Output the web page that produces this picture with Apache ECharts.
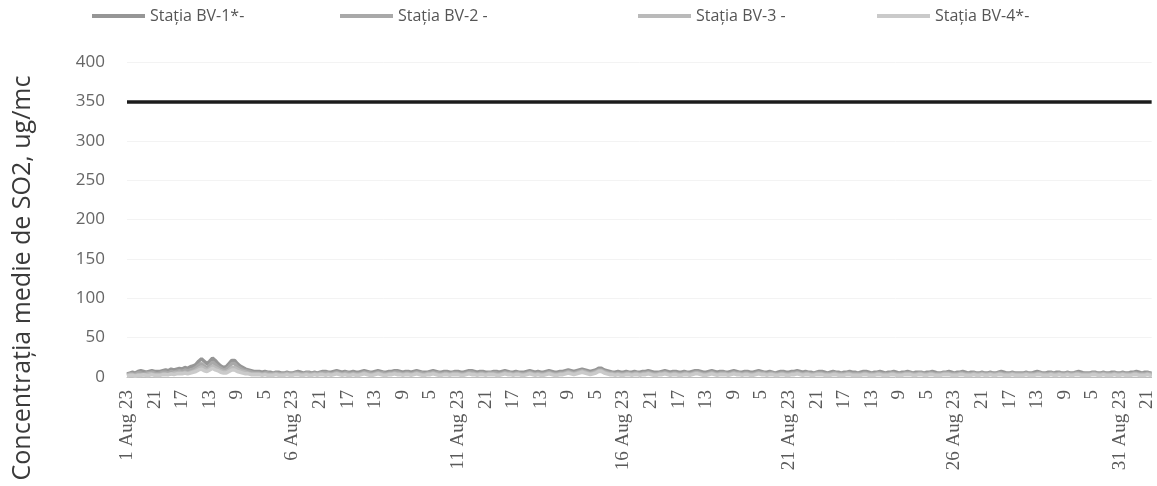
<!DOCTYPE html>
<html>
<head>
<meta charset="utf-8">
<script src="https://cdn.jsdelivr.net/npm/echarts@6/dist/echarts.min.js"></script>
<style>html,body{margin:0;padding:0;background:#fff;}#c{width:1157px;height:486px;}</style>
</head>
<body>
<div id="c"></div>
<script>
// ---- DATA ----
const seriesNames = ["Stația BV-1*-", "Stația BV-2 -", "Stația BV-3 -", "Stația BV-4*-"];
const yAxisTitle = "Concentrația medie de SO2, ug/mc";
const limitValue = 350;
const yTicks = { min: 0, max: 400, step: 50 };
const monthNames = ["Jan","Feb","Mar","Apr","May","Jun","Jul","Aug","Sep","Oct","Nov","Dec"];

// hourly values, one line per day (1 Aug 01:00 ... 1 Sep 00:00)
const bv1 = [
4,5,5,6,6,5,5,6,7,7,8,8,7,7,6,6,7,8,8,7,7,6,7,7,
7,8,8,9,9,8,8,9,10,10,9,9,10,11,11,10,10,11,12,12,11,12,13,13,
14,15,16,18,20,22,23,22,20,18,17,18,20,22,24,23,21,19,17,15,14,13,12,12,
13,15,17,19,21,22,21,19,17,15,14,13,12,11,10,9,9,8,8,8,7,7,7,7,
7,6,6,6,7,7,6,6,6,5,5,6,6,7,6,6,5,5,5,6,6,6,5,5,
5,6,6,7,7,6,6,5,5,5,6,6,6,5,5,6,6,5,5,6,6,6,7,7,
7,7,6,6,6,7,7,8,8,7,7,6,6,7,7,7,6,6,6,7,7,6,6,6,
6,6,7,7,8,8,7,7,6,6,6,7,7,7,8,8,7,7,6,6,6,6,7,7,
7,7,8,8,8,7,7,6,6,6,7,7,7,6,6,6,7,7,8,8,7,7,6,6,
6,6,6,7,7,7,8,8,7,7,6,6,6,6,7,7,7,6,6,6,6,7,7,7,
7,7,6,6,6,6,7,7,8,8,8,7,7,6,6,6,7,7,7,6,6,6,6,6,
6,6,7,7,7,6,6,6,7,7,8,8,7,7,6,6,6,7,7,7,6,6,6,6,
6,7,7,8,8,7,7,6,6,6,7,7,6,6,6,7,7,8,8,7,7,6,6,6,
6,6,7,7,7,8,8,9,9,8,8,7,7,7,8,8,9,9,10,10,9,8,8,7,
7,7,8,8,9,10,11,12,11,10,9,8,8,7,7,7,6,6,6,7,7,6,6,6,
6,6,7,7,6,6,6,7,7,7,6,6,6,6,7,7,7,8,8,7,7,6,6,6,
6,6,6,7,7,8,8,7,7,6,6,6,7,7,7,6,6,6,6,7,7,7,6,6,
6,7,7,7,8,8,8,7,7,6,6,6,6,7,7,8,8,7,7,6,6,6,7,7,
7,7,6,6,6,7,7,7,8,8,7,7,6,6,6,6,7,7,7,6,6,6,6,7,
7,7,8,8,7,7,6,6,6,7,7,7,6,6,5,5,6,6,7,7,7,6,6,6,
6,6,7,7,7,8,8,7,7,6,6,6,7,7,6,6,6,5,5,6,6,6,7,7,
7,6,6,6,5,5,6,6,7,7,6,6,6,5,5,5,6,6,6,7,7,6,6,6,
6,6,5,5,6,6,7,7,7,6,6,5,5,5,6,6,6,7,7,6,6,5,5,6,
6,6,6,7,7,6,6,5,5,5,6,6,6,7,7,7,6,6,5,5,6,6,6,6,
6,5,5,5,6,6,6,7,7,6,6,5,5,5,5,6,6,6,6,7,7,6,6,5,
5,5,6,6,6,7,7,6,6,5,5,5,6,6,6,6,5,5,5,6,6,6,5,5,
5,6,6,6,5,5,5,6,6,7,7,6,6,5,5,5,5,6,6,6,5,5,5,5,
5,5,5,6,6,6,5,5,5,5,6,6,7,7,6,6,5,5,5,5,6,6,6,5,
5,5,6,6,6,5,5,5,5,6,6,6,5,5,5,6,6,7,7,6,6,5,5,5,
5,5,5,6,6,6,6,5,5,5,5,6,6,6,5,5,5,5,6,6,6,6,5,5,
5,6,6,6,5,5,5,5,6,6,6,7,7,6,6,5,5,5,6,6,6,5,5,5
];
const bv2 = [
3,3,4,4,4,3,3,4,5,5,5,4,4,4,5,5,5,6,6,5,5,4,4,5,
5,5,6,6,6,5,5,6,7,7,6,6,7,8,8,7,7,8,9,9,8,8,9,10,
10,11,12,13,15,16,17,16,14,13,12,13,15,17,19,18,16,14,13,12,11,10,9,9,
10,11,13,15,17,18,17,15,13,12,11,10,9,8,8,7,7,6,6,6,5,5,5,5,
5,5,4,4,5,5,5,4,4,4,4,5,5,5,4,4,4,4,4,5,5,4,4,4,
4,4,5,5,5,4,4,4,4,4,5,5,5,4,4,4,5,5,4,4,5,5,5,5,
5,5,5,4,4,5,5,6,6,5,5,5,4,5,5,5,5,4,4,5,5,5,4,4,
4,5,5,5,6,6,5,5,5,4,4,5,5,5,6,6,5,5,5,4,4,5,5,5,
5,5,6,6,6,5,5,5,4,4,5,5,5,5,4,4,5,5,6,6,5,5,5,4,
4,4,5,5,5,5,6,6,5,5,5,4,4,4,5,5,5,5,4,4,5,5,5,5,
5,5,4,4,4,5,5,5,6,6,6,5,5,4,4,5,5,5,5,4,4,4,5,5,
5,5,5,5,5,4,4,5,5,5,6,6,5,5,5,4,4,5,5,5,5,4,4,4,
4,5,5,6,6,5,5,4,4,5,5,5,4,4,4,5,5,6,6,5,5,5,4,4,
4,5,5,5,5,6,6,7,7,6,6,5,5,5,6,6,7,7,8,8,7,6,6,5,
5,5,6,6,7,8,9,10,9,8,7,6,6,5,5,5,5,4,4,5,5,5,4,4,
4,4,5,5,5,4,4,5,5,5,5,4,4,4,5,5,5,6,6,5,5,5,4,4,
4,4,5,5,5,6,6,5,5,5,4,4,5,5,5,5,4,4,4,5,5,5,5,4,
4,5,5,5,6,6,6,5,5,5,4,4,4,5,5,6,6,5,5,5,4,4,5,5,
5,5,5,4,4,5,5,5,6,6,5,5,5,4,4,4,5,5,5,5,4,4,4,5,
5,5,6,6,5,5,5,4,4,5,5,5,5,4,4,4,4,5,5,5,5,4,4,4,
4,4,5,5,5,6,6,5,5,5,4,4,5,5,5,4,4,4,4,4,5,5,5,5,
5,5,4,4,4,4,4,5,5,5,5,4,4,4,4,4,4,5,5,5,5,5,4,4,
4,4,4,4,4,5,5,5,5,5,4,4,4,4,4,5,5,5,5,5,4,4,4,4,
4,4,5,5,5,5,4,4,4,4,4,5,5,5,5,5,5,4,4,4,4,5,5,5,
5,4,4,4,4,5,5,5,5,5,4,4,4,4,4,4,5,5,5,5,5,4,4,4,
4,4,4,4,5,5,5,5,4,4,4,4,4,5,5,5,4,4,4,4,5,5,4,4,
4,4,5,5,4,4,4,4,5,5,5,5,4,4,4,4,4,4,5,5,4,4,4,4,
4,4,4,4,5,5,4,4,4,4,4,5,5,5,5,4,4,4,4,4,4,5,5,4,
4,4,4,5,5,4,4,4,4,4,5,5,4,4,4,4,5,5,5,5,4,4,4,4,
4,4,4,4,5,5,5,4,4,4,4,4,5,5,4,4,4,4,4,5,5,5,4,4,
4,4,5,5,4,4,4,4,4,5,5,5,5,5,4,4,4,4,4,5,5,4,4,4
];
const bv3 = [
2,2,3,3,3,2,2,3,3,3,3,3,3,3,3,4,4,4,4,3,3,3,3,3,
3,3,4,4,4,4,3,4,4,5,5,4,5,5,6,5,5,6,6,6,5,6,6,7,
7,8,9,10,11,12,13,12,11,10,9,10,11,13,14,13,12,11,10,9,8,7,7,6,
7,8,9,11,12,13,12,11,10,9,8,7,7,6,6,5,5,5,4,4,4,4,4,4,
4,3,3,3,4,4,3,3,3,3,3,4,4,4,3,3,3,3,3,4,4,3,3,3,
3,3,4,4,4,3,3,3,3,3,4,4,3,3,3,3,4,4,3,3,4,4,4,3,
3,4,4,3,3,4,4,5,5,4,4,3,3,4,4,4,3,3,3,4,4,4,3,3,
3,4,4,4,5,5,4,4,3,3,3,4,4,4,5,4,4,4,3,3,3,4,4,4,
4,4,5,5,4,4,4,3,3,3,4,4,4,4,3,3,4,4,5,5,4,4,3,3,
3,3,4,4,4,4,5,5,4,4,3,3,3,3,4,4,4,4,3,3,4,4,4,4,
4,4,3,3,3,4,4,4,5,5,4,4,4,3,3,4,4,4,4,3,3,3,4,4,
4,4,4,4,3,3,3,4,4,4,5,5,4,4,4,3,3,4,4,4,4,3,3,3,
3,4,4,5,5,4,4,3,3,4,4,4,3,3,3,4,4,5,5,4,4,4,3,3,
3,4,4,4,4,5,5,6,6,5,5,4,4,4,5,5,6,6,7,7,6,5,5,4,
4,4,5,5,6,7,8,9,8,7,6,5,5,4,4,4,4,3,3,4,4,4,3,3,
3,3,4,4,4,3,3,4,4,4,4,3,3,3,4,4,4,5,5,4,4,4,3,3,
3,3,4,4,4,5,5,4,4,4,3,3,4,4,4,4,3,3,3,4,4,4,4,3,
3,4,4,4,5,5,5,4,4,4,3,3,3,4,4,5,5,4,4,4,3,3,4,4,
4,4,4,3,3,4,4,4,5,5,4,4,4,3,3,3,4,4,4,4,3,3,3,4,
4,4,5,5,4,4,4,3,3,4,4,4,4,3,3,3,3,4,4,4,4,3,3,3,
3,3,4,4,4,5,5,4,4,4,3,3,4,4,4,3,3,3,3,3,4,4,4,4,
4,4,3,3,3,3,3,4,4,4,4,3,3,3,3,3,3,4,4,4,4,4,3,3,
3,3,3,3,3,4,4,4,4,4,3,3,3,3,3,4,4,4,4,4,3,3,3,3,
3,3,4,4,4,4,3,3,3,3,3,4,4,4,4,4,4,3,3,3,3,4,4,4,
4,3,3,3,3,4,4,4,4,4,3,3,3,3,3,3,4,4,4,4,4,3,3,3,
3,3,3,3,4,4,4,4,3,3,3,3,3,4,4,4,3,3,3,3,4,4,3,3,
3,3,4,4,3,3,3,3,4,4,4,4,3,3,3,3,3,3,4,4,3,3,3,3,
3,3,3,3,4,4,3,3,3,3,3,4,4,4,4,3,3,3,3,3,3,4,4,3,
3,3,3,4,4,3,3,3,3,3,4,4,3,3,3,3,4,4,4,4,3,3,3,3,
3,3,3,3,4,4,4,3,3,3,3,3,4,4,3,3,3,3,3,4,4,4,3,3,
3,3,4,4,3,3,3,3,3,4,4,4,4,4,3,3,3,3,3,4,4,3,3,3
];
const bv4 = [
1,1,2,2,2,2,1,1,2,2,2,3,3,2,2,2,2,3,3,2,2,2,2,2,
2,2,3,3,3,3,3,3,4,4,3,3,4,4,4,4,4,5,5,4,4,5,5,5,
6,6,7,8,9,10,10,9,8,8,7,8,9,10,11,10,9,9,8,7,6,6,5,5,
5,6,7,8,9,10,9,8,7,7,6,6,5,5,4,4,4,3,3,3,3,3,3,3,
3,2,2,2,3,3,2,2,2,2,2,3,3,3,2,2,2,2,2,3,3,2,2,2,
2,2,3,3,3,2,2,2,2,2,3,3,2,2,2,2,3,3,2,2,3,3,3,2,
2,3,3,2,2,3,3,4,4,3,3,2,2,3,3,3,2,2,2,3,3,3,2,2,
2,3,3,3,4,4,3,3,2,2,2,3,3,3,4,3,3,3,2,2,2,3,3,3,
3,3,4,4,3,3,3,2,2,2,3,3,3,3,2,2,3,3,4,4,3,3,2,2,
2,2,3,3,3,3,4,4,3,3,2,2,2,2,3,3,3,3,2,2,3,3,3,3,
3,3,2,2,2,3,3,3,4,4,3,3,3,2,2,3,3,3,3,2,2,2,3,3,
3,3,3,3,2,2,2,3,3,3,4,4,3,3,3,2,2,3,3,3,3,2,2,2,
2,3,3,4,4,3,3,2,2,3,3,3,2,2,2,3,3,4,4,3,3,3,2,2,
2,3,3,3,3,4,4,5,5,4,4,3,3,3,4,4,5,5,6,6,5,4,4,3,
3,3,4,4,5,6,7,8,7,6,5,4,4,3,3,3,3,2,2,3,3,3,2,2,
2,2,3,3,3,2,2,3,3,3,3,2,2,2,3,3,3,4,4,3,3,3,2,2,
2,2,3,3,3,4,4,3,3,3,2,2,3,3,3,3,2,2,2,3,3,3,3,2,
2,3,3,3,4,4,4,3,3,3,2,2,2,3,3,4,4,3,3,3,2,2,3,3,
3,3,3,2,2,3,3,3,4,4,3,3,3,2,2,2,3,3,3,3,2,2,2,3,
3,3,4,4,3,3,3,2,2,3,3,3,3,2,2,2,2,3,3,3,3,2,2,2,
2,2,3,3,3,4,4,3,3,3,2,2,3,3,3,2,2,2,2,2,3,3,3,3,
3,3,2,2,2,2,2,3,3,3,3,2,2,2,2,2,2,3,3,3,3,3,2,2,
2,2,2,2,2,3,3,3,3,3,2,2,2,2,2,3,3,3,3,3,2,2,2,2,
2,2,3,3,3,3,2,2,2,2,2,3,3,3,3,3,3,2,2,2,2,3,3,3,
3,2,2,2,2,3,3,3,3,3,2,2,2,2,2,2,3,3,3,3,3,2,2,2,
2,2,2,2,3,3,3,3,2,2,2,2,2,3,3,3,2,2,2,2,3,3,2,2,
2,2,3,3,2,2,2,2,3,3,3,3,2,2,2,2,2,2,3,3,2,2,2,2,
2,2,2,2,3,3,2,2,2,2,2,3,3,3,3,2,2,2,2,2,2,3,3,2,
2,2,2,3,3,2,2,2,2,2,3,3,2,2,2,2,3,3,3,3,2,2,2,2,
2,2,2,2,3,3,3,2,2,2,2,2,3,3,2,2,2,2,2,3,3,3,2,2,
2,2,3,3,2,2,2,2,2,3,3,3,3,3,2,2,2,2,2,3,3,2,2,2
];

// categories: hourly timestamps starting 1 Aug 2023 01:00
const categories = [];
for (let i = 0; i < bv1.length; i++) {
  const d = new Date(2023, 7, 1, 1 + i);
  categories.push({ day: d.getDate(), mon: monthNames[d.getMonth()], hour: d.getHours() });
}
const labelEvery = 20;   // one tick label every 20 hours
const dateLabelEvery = 120; // date label every 5 days
const tickLabels = categories.map((c, i) =>
  i % dateLabelEvery === 0 ? (c.day + " " + c.mon + " 23") : String(c.hour));

// ---- CHART ----
const colors = ["#969696", "#a9a9a9", "#bababa", "#cacaca"];
const seriesData = [bv1, bv2, bv3, bv4];
const legendLefts = [92, 340, 638, 877];

const chart = echarts.init(document.getElementById('c'), null, { renderer: 'canvas' });
const option = {
  animation: false,
  backgroundColor: '#ffffff',
  legend: seriesNames.map((n, i) => ({
    data: [n],
    left: legendLefts[i],
    top: 8,
    padding: 0,
    icon: 'rect',
    itemWidth: 53,
    itemHeight: 4,
    textStyle: { fontFamily: 'Open Sans', fontSize: 16, color: '#555' }
  })),
  grid: { left: 127, right: -2, top: 62, bottom: 109, containLabel: false },
  xAxis: {
    type: 'category',
    data: tickLabels,
    boundaryGap: false,
    axisLine: { show: true, lineStyle: { color: '#bdbdbd' } },
    axisTick: { show: false },
    axisLabel: {
      interval: labelEvery - 1,
      rotate: 90,
      margin: 13,
      fontFamily: 'Liberation Serif',
      fontSize: 19,
      color: '#5a5a5a'
    },
    splitLine: { show: false }
  },
  yAxis: {
    type: 'value',
    min: yTicks.min, max: yTicks.max, interval: yTicks.step,
    axisLine: { show: false },
    axisTick: { show: false },
    axisLabel: { margin: 22, fontFamily: 'Open Sans', fontSize: 17, color: '#666' },
    splitLine: { show: true, lineStyle: { color: '#f3f3f3', width: 1 } }
  },
  graphic: [{
    type: 'text',
    x: 23, y: 278,
    rotation: Math.PI / 2,
    style: {
      text: yAxisTitle,
      fill: '#3a3a3a',
      font: '25px "Open Sans"',
      align: 'center',
      verticalAlign: 'middle'
    }
  }],
  series: seriesNames.map((n, i) => ({
    name: n,
    type: 'line',
    data: seriesData[i],
    showSymbol: false,
    symbol: 'none',
    color: colors[i],
    lineStyle: { color: colors[i], width: 3.5 },
    z: 2 + i,
    markLine: i === 0 ? {
      silent: true,
      symbol: 'none',
      label: { show: false },
      lineStyle: { color: '#1c1c1c', width: 3.5, type: 'solid' },
      data: [{ yAxis: limitValue }]
    } : undefined
  }))
};
chart.setOption(option);
</script>
</body>
</html>
